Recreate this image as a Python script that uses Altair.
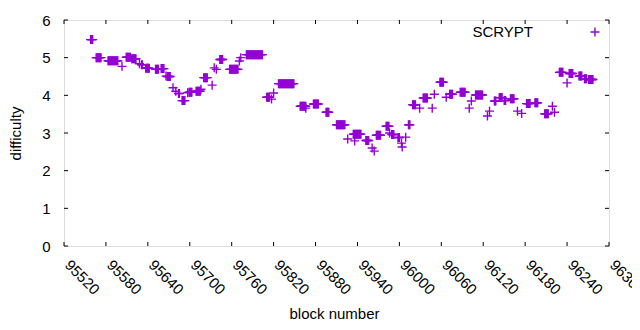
import altair as alt
import pandas as pd

# runs of consecutive blocks sharing the same difficulty
run_start = [95558, 95566, 95583, 95603, 95609, 95617, 95628, 95631, 95637, 95651,
             95659, 95666, 95668, 95676, 95680, 95684, 95689, 95697, 95699, 95709,
             95716, 95720, 95732, 95735, 95738, 95743, 95757, 95771, 95773, 95781,
             95810, 95817, 95820, 95827, 95858, 95866, 95877, 95895, 95910, 95926,
             95934, 95936, 95952, 95961, 95964, 95967, 95981, 95986, 95989, 95998,
             96003, 96004, 96009, 96013, 96019, 96029, 96034, 96047, 96050, 96058,
             96067, 96072, 96087, 96100, 96103, 96109, 96126, 96129, 96136, 96143,
             96150, 96159, 96169, 96175, 96182, 96194, 96208, 96219, 96222, 96229,
             96240, 96243, 96257, 96265, 96271]
run_end = [95561, 95573, 95597, 95603, 95615, 95623, 95628, 95632, 95642, 95655,
           95663, 95666, 95672, 95676, 95680, 95685, 95693, 95697, 95703, 95715,
           95716, 95725, 95732, 95735, 95738, 95747, 95769, 95771, 95773, 95804,
           95814, 95817, 95820, 95849, 95866, 95866, 95884, 95899, 95922, 95926,
           95945, 95936, 95956, 95961, 95964, 95973, 95985, 95986, 95992, 96000,
           96003, 96004, 96009, 96015, 96023, 96029, 96040, 96047, 96050, 96063,
           96067, 96076, 96094, 96100, 96103, 96119, 96126, 96129, 96138, 96147,
           96152, 96164, 96169, 96175, 96187, 96198, 96213, 96219, 96222, 96234,
           96240, 96248, 96261, 96268, 96277]
run_value = [5.48, 5.00, 4.92, 4.77, 5.01, 4.97, 4.84, 4.81, 4.72, 4.69,
             4.71, 4.51, 4.50, 4.20, 4.11, 4.05, 3.86, 4.07, 4.08, 4.11,
             4.16, 4.47, 4.27, 4.73, 4.69, 4.95, 4.69, 4.91, 5.00, 5.08,
             3.95, 3.90, 4.06, 4.31, 3.71, 3.66, 3.77, 3.55, 3.22, 2.84,
             2.97, 2.79, 2.80, 2.60, 2.52, 2.94, 3.18, 3.00, 2.96, 2.88,
             2.73, 2.63, 2.89, 3.22, 3.75, 3.66, 3.93, 3.66, 4.03, 4.35,
             3.95, 4.03, 4.08, 3.66, 3.85, 4.01, 3.45, 3.58, 3.85, 3.94,
             3.86, 3.91, 3.58, 3.52, 3.78, 3.80, 3.51, 3.71, 3.55, 4.61,
             4.33, 4.58, 4.51, 4.44, 4.42]

x_ticks = [95520, 95580, 95640, 95700, 95760, 95820, 95880, 95940, 96000,
           96060, 96120, 96180, 96240, 96300]
y_ticks = [0, 1, 2, 3, 4, 5, 6]
series_name = ["SCRYPT"]

blocks, diffs = [], []
for s, e, v in zip(run_start, run_end, run_value):
    for b in range(s, e + 1):
        blocks.append(b)
        diffs.append(v)
df = pd.DataFrame({"block": blocks, "difficulty": diffs})

W, H = 545, 226
FONT = "Liberation Sans"
FS = 15
COLOR = "#9400d3"
PLUS = "M-1,0L1,0M0,-1L0,1"
TL = 4

xs = alt.Scale(domain=[x_ticks[0], x_ticks[-1]], nice=False, zero=False)
ys = alt.Scale(domain=[y_ticks[0], y_ticks[-1]], nice=False, zero=False)

x_axis = alt.Axis(
    values=x_ticks, title="block number", format="d", grid=False, ticks=False,
    domain=False, labelAngle=45, labelAlign="left", labelBaseline="middle",
    labelPadding=16, labelOffset=3, labelFlush=False, labelOverlap=False,
    labelFont=FONT, labelFontSize=FS, labelColor="black",
    titleFont=FONT, titleFontSize=FS, titleFontWeight="normal", titleColor="black",
    titleX=270, titleY=67, titleBaseline="middle", titleAlign="center")
y_axis = alt.Axis(
    values=y_ticks, title="difficulty", grid=False, ticks=False, domain=False,
    labelPadding=14, labelFont=FONT, labelFontSize=FS, labelColor="black",
    labelFlush=False,
    titleFont=FONT, titleFontSize=FS, titleFontWeight="normal", titleColor="black",
    titleX=-49, titleY=113, titleBaseline="middle", titleAlign="center", titleAngle=-90)

points = alt.Chart(df).mark_point(
    shape=PLUS, size=81, filled=False, strokeWidth=1.4, color=COLOR, opacity=1
).encode(
    x=alt.X("block:Q", scale=xs, axis=x_axis),
    y=alt.Y("difficulty:Q", scale=ys, axis=y_axis),
)

xt = pd.DataFrame({"block": x_ticks})
yt = pd.DataFrame({"difficulty": y_ticks})
tick_bottom = alt.Chart(xt).mark_rule(color="black", strokeWidth=1).encode(
    x=alt.X("block:Q", scale=xs, axis=x_axis), y=alt.value(H), y2=alt.value(H - TL))
tick_top = alt.Chart(xt).mark_rule(color="black", strokeWidth=1).encode(
    x=alt.X("block:Q", scale=xs, axis=x_axis), y=alt.value(0), y2=alt.value(TL))
tick_left = alt.Chart(yt).mark_rule(color="black", strokeWidth=1).encode(
    y=alt.Y("difficulty:Q", scale=ys, axis=y_axis), x=alt.value(0), x2=alt.value(TL))
tick_right = alt.Chart(yt).mark_rule(color="black", strokeWidth=1).encode(
    y=alt.Y("difficulty:Q", scale=ys, axis=y_axis), x=alt.value(W), x2=alt.value(W - TL))

leg = pd.DataFrame({"name": series_name})
leg_text = alt.Chart(leg).mark_text(
    align="right", baseline="middle", font=FONT, fontSize=FS, color="black"
).encode(text="name:N", x=alt.value(469), y=alt.value(12))
leg_pt = alt.Chart(leg).mark_point(
    shape=PLUS, size=81, filled=False, strokeWidth=1.4, color=COLOR, opacity=1
).encode(x=alt.value(531), y=alt.value(12))

chart = alt.layer(
    points, tick_bottom, tick_top, tick_left, tick_right, leg_text, leg_pt
).properties(
    width=W, height=H,
    autosize=alt.AutoSizeParams(type="none"),
    padding={"left": 56, "top": 12, "right": 640 - 16 - 56 - W, "bottom": 330 - 16 - 12 - H},
).configure_view(stroke="black", strokeWidth=1).configure(background="white")

chart.save("out.html", embed_options={"renderer": "svg", "actions": False})
